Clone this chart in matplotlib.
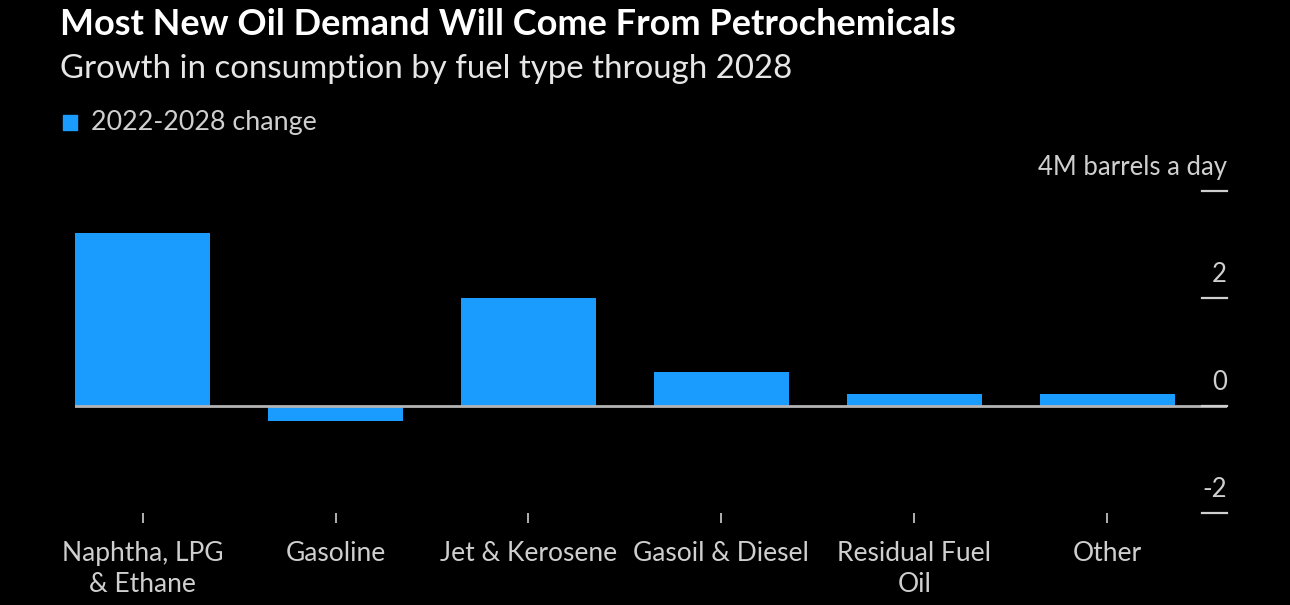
import matplotlib
matplotlib.use("Agg")
import matplotlib.pyplot as plt
import matplotlib.transforms as mtransforms

plt.rcParams['font.family'] = ['Lato', 'DejaVu Sans']

# data
fuels = ["Naphtha, LPG\n& Ethane", "Gasoline", "Jet & Kerosene",
         "Gasoil & Diesel", "Residual Fuel\nOil", "Other"]
change = [3.22, -0.28, 2.01, 0.62, 0.21, 0.21]
yticks = [-2, 0, 2, 4]
ytick_labels = ["-2", "0", "2", "4M barrels a day"]

bg = "#000000"
bar_color = "#1a9cff"
label_color = "#cfcfcf"

fig = plt.figure(figsize=(12.9, 6.05), dpi=100, facecolor=bg)
ax = fig.add_axes([75 / 1290, 92 / 605, 1152 / 1290, 322.3 / 605])
ax.set_facecolor(bg)

x = list(range(len(fuels)))
ax.bar(x, change, width=0.7, color=bar_color, zorder=2)
ax.axhline(0, color="#b4b4b4", lw=2, zorder=3)

ax.set_xlim(-0.35, 5.62)
ax.set_ylim(-2, 4)

for s in ax.spines.values():
    s.set_visible(False)

# x ticks: small marks under the plot
ax.set_xticks(x)
ax.set_xticklabels(fuels, color=label_color, fontsize=19, linespacing=1.3)
ax.tick_params(axis="x", length=7, width=1.2, color="#cfcfcf", pad=13,
               direction="out")

# y ticks: short lines at right edge with labels above them
ax.set_yticks([])
trans = mtransforms.blended_transform_factory(ax.transAxes, ax.transData)
for v, lab in zip(yticks, ytick_labels):
    ax.plot([0.9786, 1.0], [v, v], transform=trans, color="#cfcfcf",
            lw=1.6, clip_on=False, zorder=3)
    ax.annotate(lab, xy=(1.0, v), xycoords=trans, xytext=(0, 16),
                textcoords="offset pixels", ha="right", va="baseline",
                color=label_color, fontsize=18.5)

# titles and legend
fig.text(60 / 1290, 1 - 35 / 605, "Most New Oil Demand Will Come From Petrochemicals",
         color="white", fontsize=26, fontweight="bold", va="baseline")
fig.text(60 / 1290, 1 - 78 / 605, "Growth in consumption by fuel type through 2028",
         color="#e6e6e6", fontsize=23.8, va="baseline")
fig.patches.append(plt.Rectangle((63 / 1290, 1 - 130 / 605), 14 / 1290, 15 / 605,
                                 transform=fig.transFigure, color=bar_color))
fig.text(91 / 1290, 1 - 122.5 / 605, "2022-2028 change", color=label_color,
         fontsize=19.4, va="center")

fig.savefig("out.png", dpi=100, facecolor=bg)
